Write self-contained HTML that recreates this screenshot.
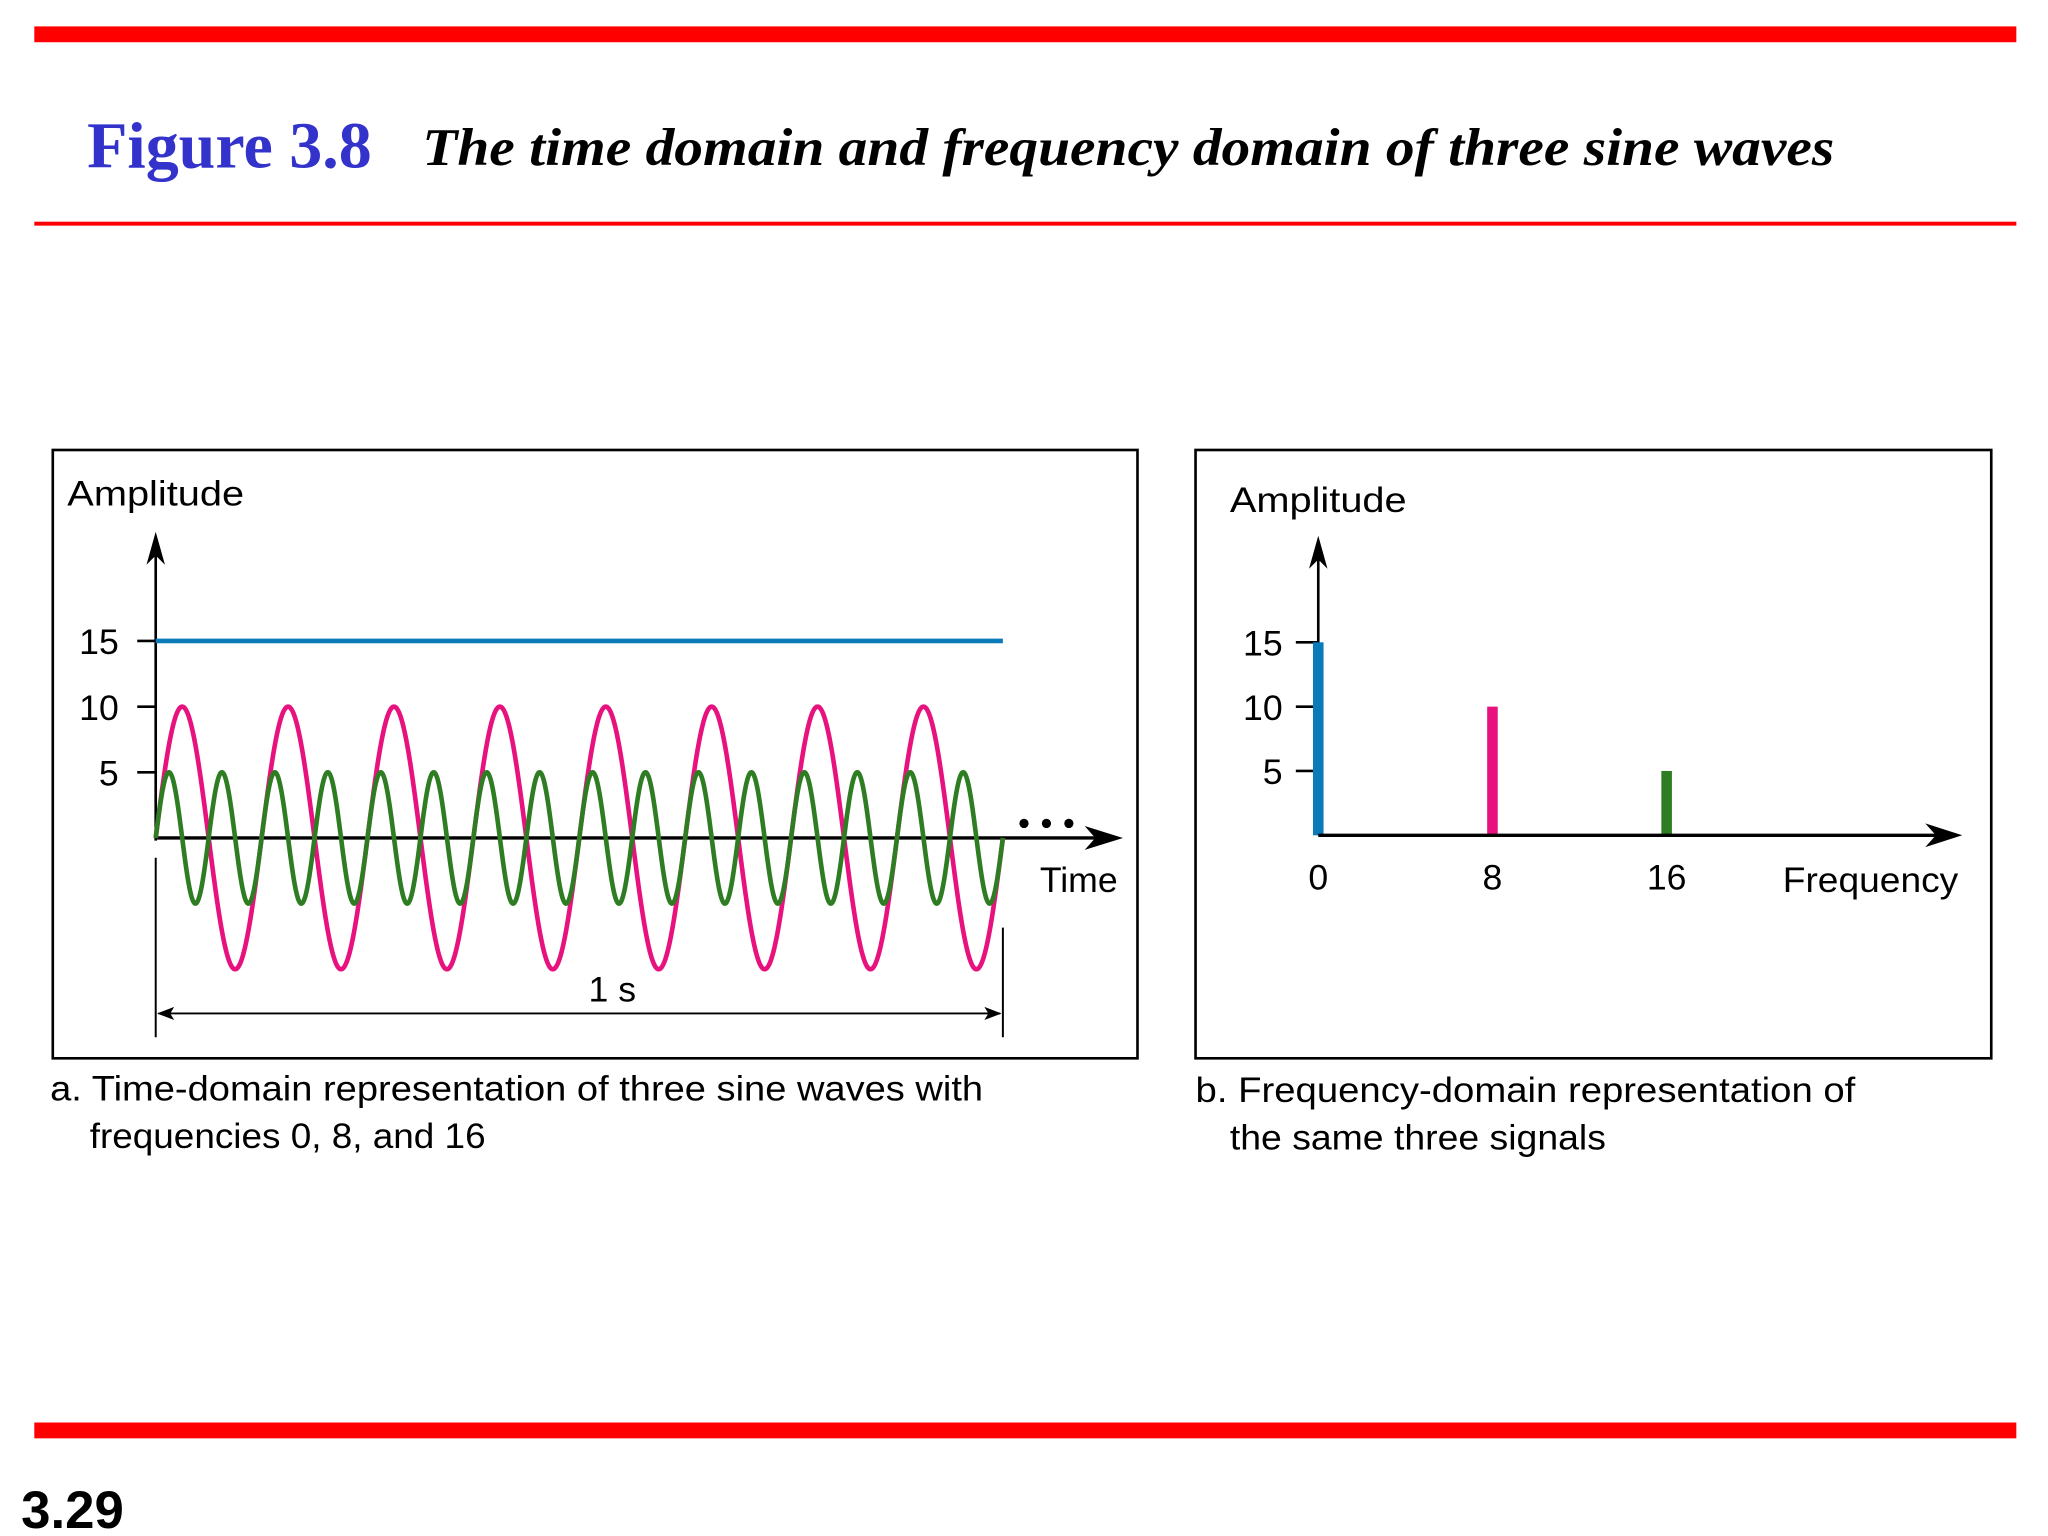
<!DOCTYPE html>
<html><head><meta charset="utf-8"><style>
html,body{margin:0;padding:0;background:#fff;}
svg{display:block;}
text{font-family:"Liberation Sans",sans-serif;}
</style></head><body>
<svg id="fig" width="2048" height="1536" viewBox="0 0 1552 1164" xmlns="http://www.w3.org/2000/svg">
<rect x="26" y="20" width="1502" height="12" fill="#ff0000"/>
<text x="66" y="127" font-family="Liberation Serif, serif" font-weight="bold" font-size="50" fill="#3333cc" style="font-family:'Liberation Serif',serif">Figure 3.8</text>
<text x="320" y="125" font-weight="bold" font-style="italic" font-size="40" textLength="1070" lengthAdjust="spacingAndGlyphs" style="font-family:'Liberation Serif',serif">The time domain and frequency domain of three sine waves</text>
<rect x="26" y="168" width="1502" height="3" fill="#ff0000"/>
<rect x="26" y="1078" width="1502" height="12" fill="#ff0000"/>
<text x="16" y="1158" font-weight="bold" font-size="40">3.29</text>

<rect x="40" y="341" width="822" height="461" fill="none" stroke="#000" stroke-width="2"/>
<rect x="906" y="341" width="603" height="461" fill="none" stroke="#000" stroke-width="2"/>

<g id="left"></g>
<g id="right"></g>

<text x="38" y="834" font-size="27" textLength="707" lengthAdjust="spacingAndGlyphs">a. Time-domain representation of three sine waves with</text>
<text x="68" y="870" font-size="27" textLength="300" lengthAdjust="spacingAndGlyphs">frequencies 0, 8, and 16</text>
<text x="906" y="835" font-size="27" textLength="500" lengthAdjust="spacingAndGlyphs">b. Frequency-domain representation of</text>
<text x="932" y="871" font-size="27" textLength="285" lengthAdjust="spacingAndGlyphs">the same three signals</text>
</svg>
<script>
const frequencies = [0, 8, 16];
const amplitudes = [15, 10, 5];
const colors = ["#0a7ab8", "#e8127f", "#2e7d23"];
const yTicks = [5, 10, 15];
const freqTickLabels = ["0", "8", "16"];

const NS = "http://www.w3.org/2000/svg";
function mk(parent, tag, attrs) {
  const e = document.createElementNS(NS, tag);
  for (const k in attrs) e.setAttribute(k, attrs[k]);
  parent.appendChild(e);
  return e;
}
const L = document.getElementById('left');
const R = document.getElementById('right');

// Left chart axes
const lx0 = 118, lx1 = 760, ly0 = 635, lUnit = 9.95;
const ly = v => ly0 - v * lUnit;
const lt = t => lx0 + t * (lx1 - lx0);

let e;
e = mk(L, 'text', {x: 51, y: 383, 'font-size': 27, textLength: 134, lengthAdjust: 'spacingAndGlyphs'}); e.textContent = 'Amplitude';


e = mk(L, 'line', {x1: lx0, y1: ly0 + 2, x2: lx0, y2: 415, stroke: '#000', 'stroke-width': 2});


e = mk(L, 'polygon', {points: `${lx0},403 ${lx0-7},428 ${lx0},421 ${lx0+7},428`, fill: '#000'});


e = mk(L, 'line', {x1: lx0, y1: ly0, x2: 838, y2: ly0, stroke: '#000', 'stroke-width': 2.5});


e = mk(L, 'polygon', {points: `851,635 822,626 830,635 822,644`, fill: '#000'});


e = mk(L, 'text', {x: 788, y: 676, 'font-size': 27}); e.textContent = 'Time';


for (let i = 0; i < 3; i++) {
  e = mk(L, 'circle', {cx: 776 + i * 17, cy: 624, r: 3.5, fill: '#000'});
  
  
}
yTicks.forEach(v => {
  e = mk(L, 'line', {x1: lx0 - 14, y1: ly(v), x2: lx0, y2: ly(v), stroke: '#000', 'stroke-width': 2});
  
  
  e = mk(L, 'text', {x: 90, y: ly(v) + 10, 'font-size': 27, 'text-anchor': 'end'}); e.textContent = v;
  
  
});
// 1 s dimension
e = mk(L, 'line', {x1: lx0, y1: 650, x2: lx0, y2: 786, stroke: '#000', 'stroke-width': 1.5});


e = mk(L, 'line', {x1: lx1, y1: 703, x2: lx1, y2: 786, stroke: '#000', 'stroke-width': 1.5});


e = mk(L, 'line', {x1: lx0 + 2, y1: 768, x2: lx1 - 2, y2: 768, stroke: '#000', 'stroke-width': 1.5});


e = mk(L, 'polygon', {points: `${lx0+1},768 ${lx0+14},763 ${lx0+11},768 ${lx0+14},773`, fill: '#000'});


e = mk(L, 'polygon', {points: `${lx1-1},768 ${lx1-14},763 ${lx1-11},768 ${lx1-14},773`, fill: '#000'});


e = mk(L, 'text', {x: 464, y: 759, 'font-size': 27, 'text-anchor': 'middle'}); e.textContent = '1 s';



// Waves
frequencies.forEach((f, i) => {
  let d = '';
  const N = 1200;
  for (let k = 0; k <= N; k++) {
    const t = k / N;
    const v = f === 0 ? amplitudes[i] : amplitudes[i] * Math.sin(2 * Math.PI * f * t);
    d += (k ? 'L' : 'M') + lt(t).toFixed(2) + ',' + ly(v).toFixed(2);
  }
  e = mk(L, 'path', {d: d, fill: 'none', stroke: colors[i], 'stroke-width': 3.5});
  
  
});

// Right chart
const rx0 = 999, rPerHz = 16.5, ry0 = 633, rUnit = 9.75;
const rx = f => rx0 + f * rPerHz;
const ry = v => ry0 - v * rUnit;
e = mk(R, 'text', {x: 932, y: 388, 'font-size': 27, textLength: 134, lengthAdjust: 'spacingAndGlyphs'}); e.textContent = 'Amplitude';


e = mk(R, 'line', {x1: rx0, y1: ry0, x2: rx0, y2: 420, stroke: '#000', 'stroke-width': 2});


e = mk(R, 'polygon', {points: `${rx0},406 ${rx0-7},431 ${rx0},424 ${rx0+7},431`, fill: '#000'});


yTicks.forEach(v => {
  e = mk(R, 'line', {x1: rx0 - 17, y1: ry(v), x2: rx0, y2: ry(v), stroke: '#000', 'stroke-width': 2});
  
  
  e = mk(R, 'text', {x: 972, y: ry(v) + 10, 'font-size': 27, 'text-anchor': 'end'}); e.textContent = v;
  
  
});
frequencies.forEach((f, i) => {
  e = mk(R, 'rect', {x: rx(f) - 4, y: ry(amplitudes[i]), width: 8, height: ry0 - ry(amplitudes[i]), fill: colors[i]});
  
  
  e = mk(R, 'text', {x: rx(f), y: 674, 'font-size': 27, 'text-anchor': 'middle'}); e.textContent = freqTickLabels[i];
  
  
});
e = mk(R, 'line', {x1: rx0, y1: ry0, x2: 1475, y2: ry0, stroke: '#000', 'stroke-width': 2.5});


e = mk(R, 'polygon', {points: `1487,633 1459,624 1467,633 1459,642`, fill: '#000'});


e = mk(R, 'text', {x: 1351, y: 676, 'font-size': 27, textLength: 133, lengthAdjust: 'spacingAndGlyphs'}); e.textContent = 'Frequency';


</script>
</body></html>
